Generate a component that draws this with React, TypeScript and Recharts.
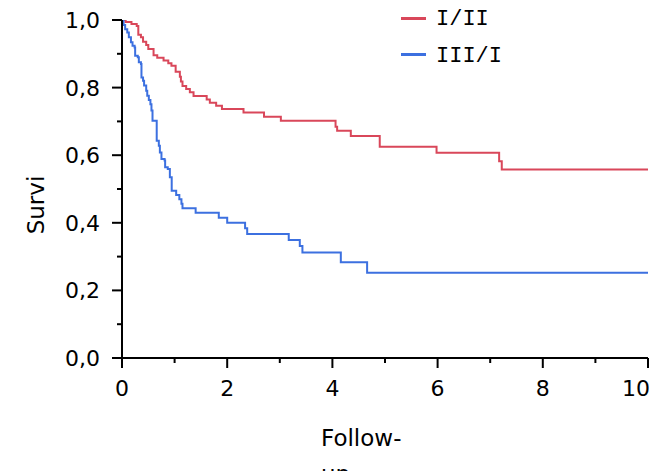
import React from "react";
import { LineChart, Line, XAxis, YAxis, Legend } from "recharts";

// Kaplan–Meier survival estimates by stage group: [time (years), survival]
const stageEarlyTimes = [0, 0.07, 0.18, 0.28, 0.31, 0.36, 0.4, 0.46, 0.5, 0.6, 0.67, 0.79, 0.88, 0.94, 1.02, 1.1, 1.12, 1.15, 1.22, 1.29, 1.36, 1.61, 1.67, 1.79, 1.9, 2.31, 2.7, 3.02, 4.06, 4.09, 4.35, 4.9, 5.98, 7.17, 7.22, 10];
const stageEarlySurv = [1.0, 0.994, 0.988, 0.982, 0.956, 0.949, 0.936, 0.926, 0.914, 0.896, 0.888, 0.88, 0.872, 0.865, 0.847, 0.832, 0.818, 0.805, 0.796, 0.786, 0.775, 0.765, 0.755, 0.746, 0.737, 0.726, 0.714, 0.702, 0.684, 0.672, 0.657, 0.625, 0.607, 0.582, 0.558, 0.558];

const stageLateTimes = [0, 0.03, 0.06, 0.1, 0.13, 0.17, 0.2, 0.24, 0.25, 0.3, 0.32, 0.36, 0.37, 0.4, 0.42, 0.46, 0.48, 0.51, 0.54, 0.56, 0.58, 0.66, 0.7, 0.72, 0.75, 0.81, 0.82, 0.87, 0.91, 0.945, 1.03, 1.09, 1.13, 1.15, 1.4, 1.84, 2.0, 2.34, 2.38, 3.17, 3.38, 3.43, 4.16, 4.66, 10];
const stageLateSurv = [1.0, 0.985, 0.973, 0.963, 0.949, 0.934, 0.924, 0.919, 0.894, 0.89, 0.875, 0.87, 0.83, 0.82, 0.806, 0.791, 0.776, 0.763, 0.751, 0.732, 0.702, 0.643, 0.628, 0.608, 0.589, 0.584, 0.564, 0.559, 0.535, 0.495, 0.482, 0.47, 0.456, 0.443, 0.43, 0.415, 0.4, 0.384, 0.367, 0.349, 0.331, 0.312, 0.283, 0.252, 0.252];

const seriesNames = ["I/II", "III/I"];
const seriesColors = ["#d9475a", "#3c70e0"];

const xTicks = [0, 1, 2, 3, 4, 5, 6, 7, 8, 9, 10];
const xMajorTicks = [0, 2, 4, 6, 8, 10];
const yTicks = [0, 0.1, 0.2, 0.3, 0.4, 0.5, 0.6, 0.7, 0.8, 0.9, 1.0];
const yMajorTicks = [0, 0.2, 0.4, 0.6, 0.8, 1.0];

const xTitle = "Follow-";
const xTitleLine2 = "up";
const yTitle = "Survi";

const earlyData = stageEarlyTimes.map((t, i) => ({ t, s: stageEarlySurv[i] }));
const lateData = stageLateTimes.map((t, i) => ({ t, s: stageLateSurv[i] }));

const FONT = "'DejaVu Sans', Verdana, sans-serif";
const AXIS_COLOR = "#000";
const X_MAX = xTicks[xTicks.length - 1];

const isMajor = (list: number[], v: number) => list.some((m) => Math.abs(m - v) < 1e-6);
const fmt = (v: number) => v.toFixed(1).replace(".", ",");

const YTick = (props: any) => {
  const { x, y, payload } = props;
  const v = payload.value as number;
  const major = isMajor(yMajorTicks, v);
  const len = major ? 10 : 5;
  return (
    <g>
      <line x1={x - len} x2={x} y1={y} y2={y} stroke={AXIS_COLOR} strokeWidth={2} />
      {major && (
        <text x={x - 22} y={y} dy="0.36em" textAnchor="end" fontFamily={FONT} fontSize={22} fill="#000">
          {fmt(v)}
        </text>
      )}
    </g>
  );
};

const XTick = (props: any) => {
  const { x, y, payload } = props;
  const v = payload.value as number;
  const major = isMajor(xMajorTicks, v);
  const len = major ? 10 : 5;
  // the last label is kept inside the plot's right edge
  const last = Math.abs(v - X_MAX) < 1e-6;
  return (
    <g>
      <line x1={x} x2={x} y1={y} y2={y + len} stroke={AXIS_COLOR} strokeWidth={2} />
      {major && (
        <text
          x={last ? x + 2 : x}
          y={y + 38}
          textAnchor={last ? "end" : "middle"}
          fontFamily={FONT}
          fontSize={22}
          fill="#000"
        >
          {String(v)}
        </text>
      )}
    </g>
  );
};

const XTitle = (props: any) => {
  const vb = props.viewBox || { x: 0, y: 0 };
  return (
    <g>
      <text x={vb.x + 199} y={vb.y + 88} fontFamily={FONT} fontSize={23} fill="#000">
        {xTitle}
      </text>
      <text x={vb.x + 199} y={vb.y + 124} fontFamily={FONT} fontSize={23} fill="#000">
        {xTitleLine2}
      </text>
    </g>
  );
};

const YTitle = (props: any) => {
  const vb = props.viewBox || { x: 0, y: 0 };
  const cx = vb.x + 36;
  const cy = 197;
  return (
    <text
      x={cx}
      y={cy}
      transform={`rotate(-90 ${cx} ${cy})`}
      textAnchor="middle"
      fontFamily={FONT}
      fontSize={23}
      fill="#000"
    >
      {yTitle}
    </text>
  );
};

const LegendBox = () => (
  <div style={{ position: "relative", width: 160, height: 80 }}>
    {seriesNames.map((name, i) => (
      <React.Fragment key={name}>
        <div
          style={{
            position: "absolute",
            left: 11,
            top: 8.5 + i * 36.6,
            width: 25,
            height: 3,
            background: seriesColors[i],
          }}
        />
        <div
          style={{
            position: "absolute",
            left: 46,
            top: 0 + i * 36.6,
            fontFamily: "'Liberation Mono', 'Courier New', monospace",
            fontSize: 22,
            lineHeight: "24px",
            color: "#000",
            whiteSpace: "nowrap",
          }}
        >
          {name}
        </div>
      </React.Fragment>
    ))}
  </div>
);

export default function App() {
  return (
    <LineChart width={656} height={463} margin={{ top: 12, right: 16, bottom: 0, left: 0 }}>
      <XAxis
        dataKey="t"
        type="number"
        domain={[0, X_MAX]}
        ticks={xTicks}
        interval={0}
        height={113}
        tickSize={0}
        tickMargin={0}
        tickLine={false}
        axisLine={{ stroke: AXIS_COLOR, strokeWidth: 2 }}
        tick={<XTick />}
        label={<XTitle />}
        allowDataOverflow
      />
      <YAxis
        dataKey="s"
        type="number"
        domain={[0, 1]}
        ticks={yTicks}
        interval={0}
        width={114}
        tickSize={0}
        tickMargin={0}
        tickLine={false}
        axisLine={{ stroke: AXIS_COLOR, strokeWidth: 2 }}
        tick={<YTick />}
        label={<YTitle />}
        allowDataOverflow
      />
      <Legend
        layout="vertical"
        align="center"
        verticalAlign="middle"
        content={<LegendBox />}
        wrapperStyle={{ position: "absolute", top: 0, left: 382, width: 160, height: 80 }}
      />
      <Line
        data={earlyData}
        dataKey="s"
        name={seriesNames[0]}
        type="stepAfter"
        stroke={seriesColors[0]}
        strokeWidth={2}
        dot={false}
        activeDot={false}
        isAnimationActive={false}
      />
      <Line
        data={lateData}
        dataKey="s"
        name={seriesNames[1]}
        type="stepAfter"
        stroke={seriesColors[1]}
        strokeWidth={2}
        dot={false}
        activeDot={false}
        isAnimationActive={false}
      />
    </LineChart>
  );
}
